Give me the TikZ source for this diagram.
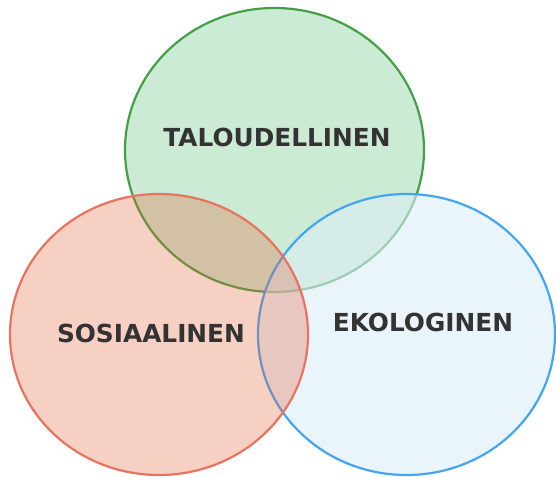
\documentclass[tikz,border=0pt]{standalone}
\usepackage{fontspec}
\setmainfont{DejaVu Sans}
\definecolor{ecoline}{RGB}{67,160,71}
\definecolor{ecofill}{RGB}{204,235,212}
\definecolor{socline}{RGB}{232,115,95}
\definecolor{socfill}{RGB}{228,98,59}
\definecolor{envline}{RGB}{66,165,245}
\definecolor{envfill}{RGB}{220,237,248}
\definecolor{labeltext}{RGB}{51,51,51}
\tikzset{
  sphere/.style={line width=2.2pt},
  sphere label/.style={text=labeltext,font=\fontsize{24.8}{28}\selectfont\bfseries,inner sep=0pt}
}
\begin{document}
\begin{tikzpicture}[x=1pt,y=-1pt]
  \useasboundingbox (0,0) rectangle (556,476);
  % taloudellinen
  \draw[sphere,draw=ecoline,fill=ecofill] (274.5,150) ellipse [x radius=149.5,y radius=142];
  % ekologinen
  \draw[sphere,draw=envline,fill=envfill,fill opacity=0.6] (406.5,334.5) ellipse [x radius=148.5,y radius=140.5];
  % sosiaalinen
  \draw[sphere,draw=socline,fill=socfill,fill opacity=0.3] (159,334.5) ellipse [x radius=149,y radius=140.5];
  \node[sphere label] (talous) at (277,137.5) {TALOUDELLINEN};
  \node[sphere label] (sosiaali) at (151,333.5) {SOSIAALINEN};
  \node[sphere label] (ekologia) at (423,322) {EKOLOGINEN};
\end{tikzpicture}
\end{document}
